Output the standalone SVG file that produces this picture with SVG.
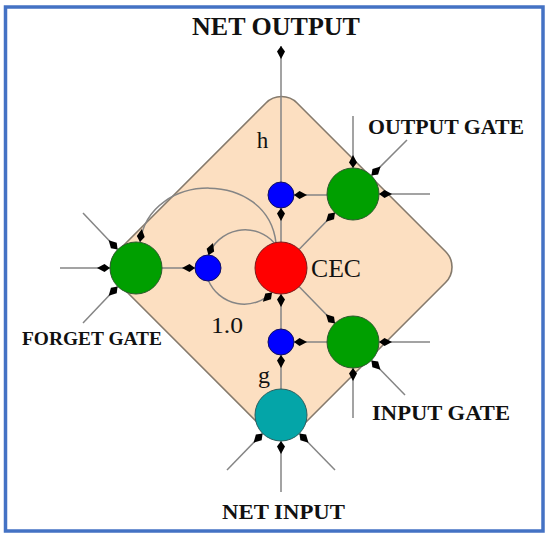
<svg xmlns="http://www.w3.org/2000/svg" width="550" height="536" viewBox="0 0 550 536">
<style>
.frame{fill:#fff;stroke:#4472C4;stroke-width:3.5}
.cell{fill:#FCDFC1;stroke:#857a6c;stroke-width:1.6}
.ln{fill:none;stroke:#858585;stroke-width:1.5;marker-end:url(#ah)}
.gate{fill:#009F00;stroke:#2d5a2d;stroke-width:1}
.cec{fill:#FF0000;stroke:#7a1a1a;stroke-width:1}
.mul{fill:#0000FF;stroke:#101060;stroke-width:1}
.inp{fill:#04A5A8;stroke:#2a5f5f;stroke-width:1}
.lbl{font-family:"Liberation Serif","Times New Roman",serif;fill:#111;font-weight:bold}
.sym{font-family:"Liberation Serif","Times New Roman",serif;fill:#111}
</style>
<defs>
<marker id="ah" viewBox="-14 -5 15 10" refX="0" refY="0" markerWidth="15" markerHeight="10" markerUnits="userSpaceOnUse" orient="auto">
<path d="M0,0 L-5.5,-4 L-13,0 L-5.5,4 Z" fill="#000"/>
</marker>
</defs>
<rect class="frame" x="5.5" y="7" width="537.5" height="524"/>
<g id="cell">
<rect class="cell" x="-127" y="-127" width="254" height="254" rx="22" transform="translate(281.5,267) rotate(45)"/>
</g>
<g id="connectors">
<line class="ln" x1="281" y1="182" x2="281" y2="46"/>
<line class="ln" x1="281" y1="242" x2="281" y2="208"/>
<line class="ln" x1="327" y1="195" x2="294" y2="195"/>
<line class="ln" x1="299" y1="249.5" x2="335" y2="212.5"/>
<line class="ln" x1="327" y1="342" x2="294" y2="342"/>
<line class="ln" x1="299" y1="286.5" x2="335" y2="323.5"/>
<line class="ln" x1="281" y1="329" x2="281" y2="294"/>
<line class="ln" x1="281" y1="389" x2="281" y2="355"/>
<line class="ln" x1="162" y1="268" x2="195" y2="268"/>
<path class="ln" d="M274.3,242.9 A39,39 0 0 0 208.5,255.2"/>
<path class="ln" d="M208.5,280.8 A39,39 0 0 0 272,292.5"/>
<path class="ln" d="M276,243 C268,170 150,170 140,242"/>
<line class="ln" x1="60" y1="268" x2="110" y2="268"/>
<line class="ln" x1="83" y1="213" x2="117.6" y2="249.6"/>
<line class="ln" x1="83" y1="323" x2="117.6" y2="286.4"/>
<line class="ln" x1="353" y1="116" x2="353" y2="168"/>
<line class="ln" x1="407" y1="140" x2="371.4" y2="175.6"/>
<line class="ln" x1="430" y1="194" x2="379" y2="194"/>
<line class="ln" x1="430" y1="342" x2="379" y2="342"/>
<line class="ln" x1="353" y1="418" x2="353" y2="368"/>
<line class="ln" x1="405" y1="395" x2="371.4" y2="360.4"/>
<line class="ln" x1="281" y1="492" x2="281" y2="441"/>
<line class="ln" x1="227" y1="470" x2="262.6" y2="433.4"/>
<line class="ln" x1="335" y1="470" x2="299.4" y2="433.4"/>
</g>
<g id="forget-gate"><circle class="gate" cx="136" cy="268" r="26"/></g>
<g id="output-gate"><circle class="gate" cx="353" cy="194" r="26"/></g>
<g id="input-gate"><circle class="gate" cx="353" cy="342" r="26"/></g>
<g id="cec"><circle class="cec" cx="281" cy="268" r="26"/></g>
<g id="mul-forget"><circle class="mul" cx="208" cy="268" r="13"/></g>
<g id="mul-output"><circle class="mul" cx="281" cy="195" r="13"/></g>
<g id="mul-input"><circle class="mul" cx="281" cy="342" r="13"/></g>
<g id="net-input-node"><circle class="inp" cx="281" cy="415" r="26"/></g>
<g id="labels">
<text class="lbl" x="276" y="35" font-size="26" text-anchor="middle">NET OUTPUT</text>
<text class="sym" x="262.5" y="148" font-size="23" text-anchor="middle">h</text>
<text class="lbl" x="368" y="134" font-size="20" textLength="156" lengthAdjust="spacingAndGlyphs">OUTPUT GATE</text>
<text class="sym" x="311" y="277" font-size="26" textLength="50" lengthAdjust="spacingAndGlyphs">CEC</text>
<text class="sym" x="211" y="333" font-size="24" textLength="32" lengthAdjust="spacingAndGlyphs">1.0</text>
<text class="sym" x="258" y="383" font-size="24">g</text>
<text class="lbl" x="22" y="345" font-size="19" textLength="140" lengthAdjust="spacingAndGlyphs">FORGET GATE</text>
<text class="lbl" x="372" y="420" font-size="20" textLength="138" lengthAdjust="spacingAndGlyphs">INPUT GATE</text>
<text class="lbl" x="222" y="519" font-size="21" textLength="123" lengthAdjust="spacingAndGlyphs">NET INPUT</text>
</g>
</svg>
